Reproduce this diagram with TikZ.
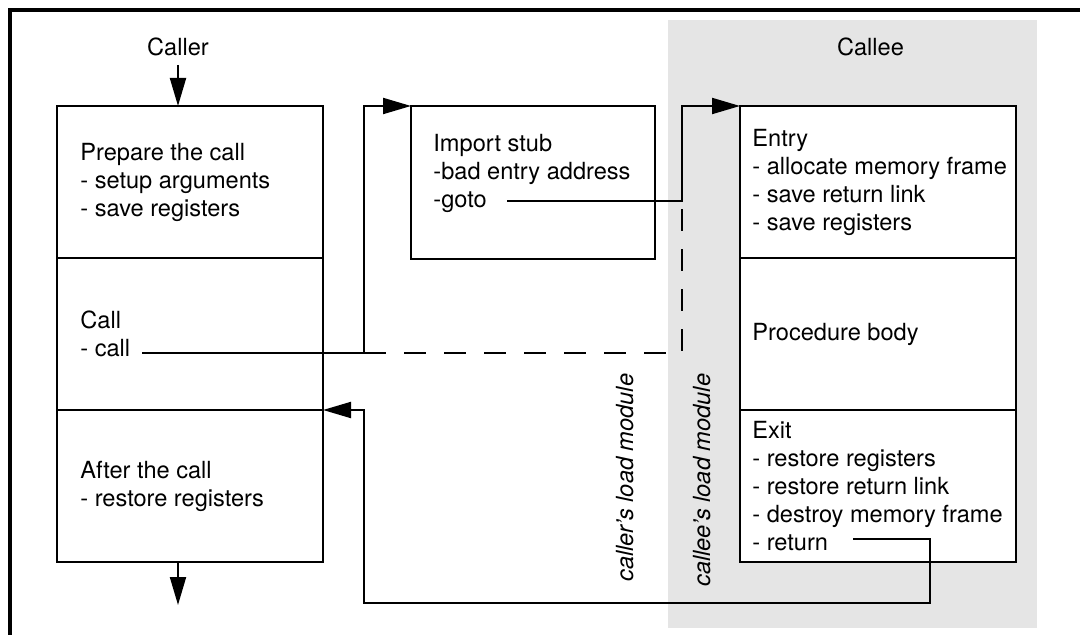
\documentclass[tikz,border=0pt]{standalone}
\usepackage{fontspec}
\setmainfont{TeX Gyre Heros}
\usetikzlibrary{positioning,arrows.meta}
\definecolor{calleebg}{HTML}{E5E5E5}

\begin{document}
\begin{tikzpicture}[x=0.5pt,y=-0.5pt,node distance=0pt,
  stage/.style={rectangle,draw=black,line width=1.2pt,fill=white,inner sep=0pt,outer sep=0pt,minimum height=76pt},
  caller/.style={stage,minimum width=133pt},
  callee/.style={stage,minimum width=138pt},
  txt/.style={align=left,inner sep=0pt,font=\fontsize{11.8}{14}\selectfont},
  head/.style={txt,inner sep=4.5pt},
  modlabel/.style={txt,font=\fontsize{11.8}{14}\selectfont\itshape,rotate=90,anchor=base west},
  wire/.style={line width=1pt},
  flow/.style={wire,-{Triangle[length=14pt,width=8pt]}},
  dashwire/.style={wire,dash pattern=on 11pt off 9pt}
  ]
  \useasboundingbox (0,0) rectangle (1080,635);
  \clip (0,0) rectangle (1080,635);

  % outer frame and the callee side
  \draw[line width=1.7pt] (10,700) -- (10,10) -- (1100,10);
  \fill[calleebg] (668,20) rectangle (1037,628);

  \node[head] (callerhd) at (178,46.5) {Caller};
  \node[head] (calleehd) at (870.5,46.5) {Callee};

  % caller column
  \node[caller] (prep) at (190,182) {};
  \node[caller,below=of prep] (call) {};
  \node[caller,below=of call] (after) {};
  \node[txt,right=11.5pt of prep.west] (preptxt) {Prepare the call\\- setup arguments\\- save registers};
  \node[txt,right=11.5pt of call.west] (calltxt) {Call\\- call};
  \node[txt,right=11.5pt of after.west] (aftertxt) {After the call\\- restore registers};

  % import stub
  \node[stage,minimum width=122pt,minimum height=76.5pt] (stub) at (533,182.5) {};
  \node[txt,right=11pt of stub.west,yshift=4.75pt] (stubtxt) {Import stub\\-bad entry address\\-goto};

  % callee column
  \node[callee] (entry) at (878,182) {};
  \node[callee,below=of entry] (body) {};
  \node[callee,below=of body] (exit) {};
  \node[txt,right=6pt of entry.west] (entrytxt) {Entry\\- allocate memory frame\\- save return link\\- save registers};
  \node[txt,right=6pt of body.west] (bodytxt) {Procedure body};
  \node[txt,right=6pt of exit.west] (exittxt) {Exit\\- restore registers\\- restore return link\\- destroy memory frame\\- return};

  \node[modlabel] (callermod) at (633,582) {caller's load module};
  \node[modlabel] (calleemod) at (710,587) {callee's load module};

  \coordinate (callout) at (142,353);
  \coordinate (callbend) at (364,353);
  \coordinate (gotoout) at (507,201);
  \coordinate (gotobend) at (682,201);
  \coordinate (retout) at (853,539);
  \coordinate (retbend) at (930,603);
  \coordinate (onward) at (178,605);

  \draw[flow] (callerhd.south) -- (callerhd.south |- prep.north);
  \draw[flow] (after.south -| onward) -- (onward);

  \draw[flow] (callout) -- (callbend) |- (stub.north west);
  \draw[dashwire] (callbend) -- (callbend -| gotobend) -- (gotobend);
  \draw[flow] (gotoout) -- (gotobend) |- (entry.north west);
  \draw[flow] (retout) -| (retbend) -- (retbend -| callbend) |- (call.south east);
\end{tikzpicture}
\end{document}
